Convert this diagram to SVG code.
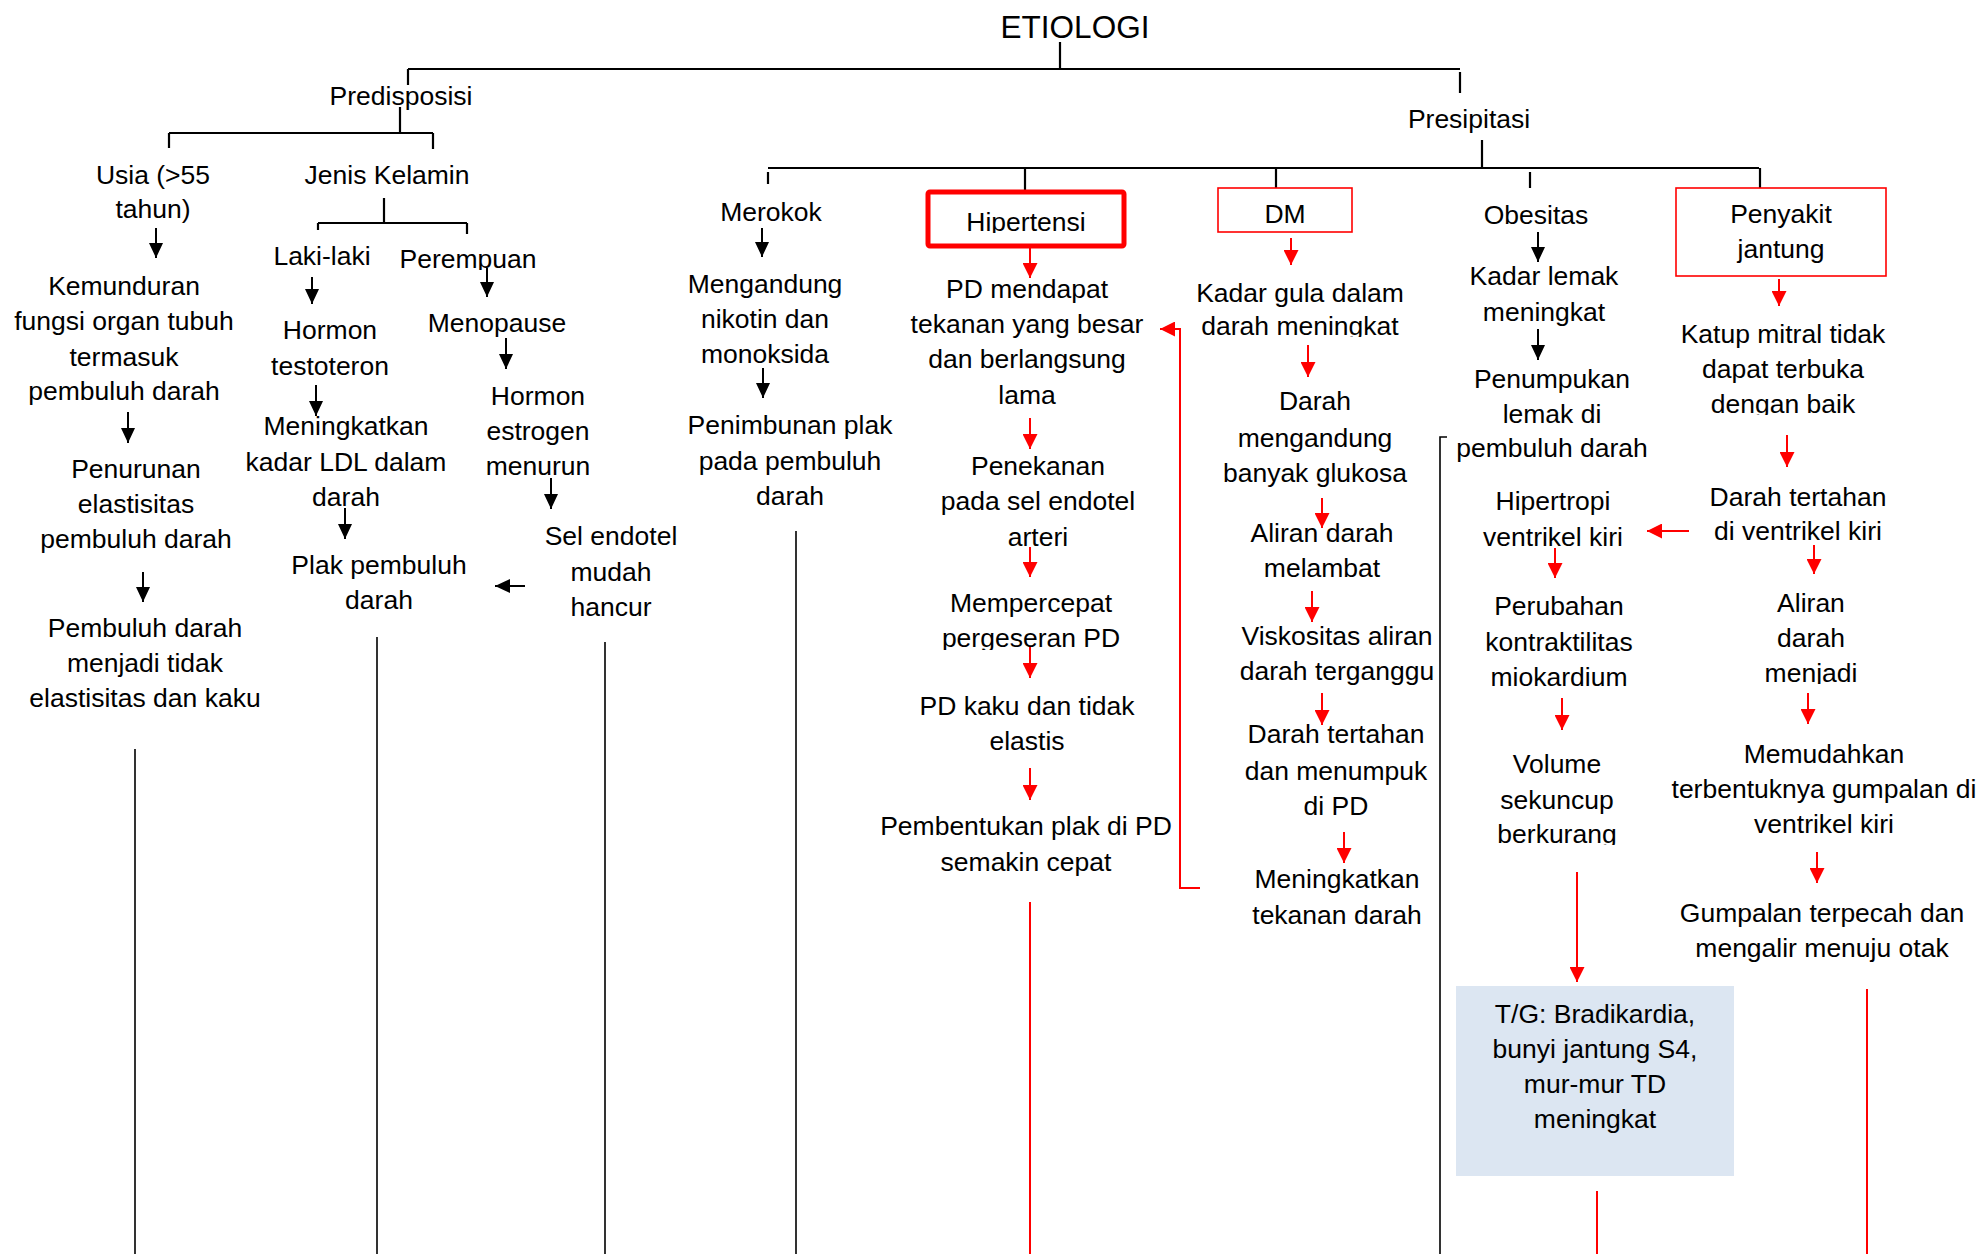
<svg xmlns="http://www.w3.org/2000/svg" width="1984" height="1254" viewBox="0 0 1984 1254">
<style>
text{font-family:"Liberation Sans",Arial,sans-serif;font-size:26.5px;fill:#000;text-anchor:middle}
.title{font-size:31.5px}
.k{stroke:#000;stroke-width:2.2;fill:none}
.kl{stroke:#000;stroke-width:1.6;fill:none}
.r{stroke:#ff0000;stroke-width:2;fill:none}
.ka{stroke:#000;stroke-width:2;fill:none;marker-end:url(#ab)}
.ra{stroke:#ff0000;stroke-width:2;fill:none;marker-end:url(#ar)}
</style>
<defs>
<marker id="ab" viewBox="0 0 15 14" refX="15" refY="7" markerWidth="15" markerHeight="14" markerUnits="userSpaceOnUse" orient="auto"><path d="M0,0 L15,7 L0,14 z" fill="#000"/></marker>
<marker id="ar" viewBox="0 0 15 15" refX="15" refY="7.5" markerWidth="15" markerHeight="15" markerUnits="userSpaceOnUse" orient="auto"><path d="M0,0 L15,7.5 L0,15 z" fill="#ff0000"/></marker>
<clipPath id="c1" clipPathUnits="userSpaceOnUse"><rect x="0" y="0" width="1984" height="270"/></clipPath>
<clipPath id="c2" clipPathUnits="userSpaceOnUse"><rect x="0" y="0" width="1984" height="337"/></clipPath>
<clipPath id="c3" clipPathUnits="userSpaceOnUse"><rect x="0" y="0" width="1984" height="415"/></clipPath>
<clipPath id="c4" clipPathUnits="userSpaceOnUse"><rect x="0" y="0" width="1984" height="845"/></clipPath>
<clipPath id="c5" clipPathUnits="userSpaceOnUse"><rect x="0" y="0" width="1984" height="684"/></clipPath>
<clipPath id="c6" clipPathUnits="userSpaceOnUse"><rect x="0" y="0" width="1984" height="650"/></clipPath>
<clipPath id="c7" clipPathUnits="userSpaceOnUse"><rect x="0" y="0" width="1984" height="233"/></clipPath>
</defs>
<rect width="1984" height="1254" fill="#fff"/>

<g id="connectors">
<path class="k" d="M1060,42 V69 M408,69 H1460 M408,69 V85 M1460,72 V93"/>
<path class="k" d="M400,107 V133 M169,133 H433 M169,133 V148 M433,133 V149"/>
<path class="k" d="M384,198 V223 M318,223 H467 M318,223 V230 M467,223 V234"/>
<path class="k" d="M1482,140 V167 M768,168 H1759 M768,172 V184 M1025,168 V192 M1276,168 V188 M1530,172 V188 M1760,168 V188"/>
<line class="ka" x1="156" y1="228" x2="156" y2="258"/>
<line class="ka" x1="128" y1="412" x2="128" y2="443"/>
<line class="ka" x1="143" y1="572" x2="143" y2="602"/>
<line class="ka" x1="312" y1="277" x2="312" y2="304"/>
<line class="ka" x1="316" y1="385" x2="316" y2="416"/>
<line class="ka" x1="345" y1="508" x2="345" y2="539"/>
<line class="ka" x1="487" y1="268" x2="487" y2="297"/>
<line class="ka" x1="506" y1="338" x2="506" y2="369"/>
<line class="ka" x1="551" y1="478" x2="551" y2="509"/>
<line class="ka" x1="525" y1="586" x2="495" y2="586"/>
<line class="ka" x1="762" y1="228" x2="762" y2="257"/>
<line class="ka" x1="763" y1="368" x2="763" y2="398"/>
<line class="ka" x1="1538" y1="232" x2="1538" y2="262"/>
<line class="ka" x1="1538" y1="329" x2="1538" y2="360"/>
<line class="ra" x1="1030" y1="247" x2="1030" y2="278"/>
<line class="ra" x1="1030" y1="418" x2="1030" y2="449"/>
<line class="ra" x1="1030" y1="547" x2="1030" y2="577"/>
<line class="ra" x1="1030" y1="647" x2="1030" y2="678"/>
<line class="ra" x1="1030" y1="768" x2="1030" y2="800"/>
<path class="ra" d="M1200,888 H1180 V329 H1160"/>
<line class="ra" x1="1291" y1="238" x2="1291" y2="265"/>
<line class="ra" x1="1308" y1="345" x2="1308" y2="377"/>
<line class="ra" x1="1322" y1="498" x2="1322" y2="528"/>
<line class="ra" x1="1312" y1="591" x2="1312" y2="622"/>
<line class="ra" x1="1322" y1="693" x2="1322" y2="725"/>
<line class="ra" x1="1344" y1="832" x2="1344" y2="863"/>
<line class="ra" x1="1555" y1="548" x2="1555" y2="578"/>
<line class="ra" x1="1562" y1="698" x2="1562" y2="730"/>
<line class="ra" x1="1577" y1="872" x2="1577" y2="982"/>
<line class="ra" x1="1689" y1="531" x2="1647" y2="531"/>
<line class="ra" x1="1779" y1="279" x2="1779" y2="306"/>
<line class="ra" x1="1787" y1="435" x2="1787" y2="467"/>
<line class="ra" x1="1814" y1="545" x2="1814" y2="574"/>
<line class="ra" x1="1808" y1="693" x2="1808" y2="724"/>
<line class="ra" x1="1817" y1="852" x2="1817" y2="883"/>
<path class="kl" d="M135,749 V1254 M377,637 V1254 M605,642 V1254 M796,531 V1254 M1447,437 H1440 V1254"/>
<path class="r" d="M1030,902 V1254 M1597,1191 V1254 M1867,989 V1254"/>
</g>

<g id="etiologi"><text class="title" x="1075" y="38">ETIOLOGI</text></g>
<g id="predisposisi"><text x="401" y="105">Predisposisi</text></g>
<g id="presipitasi"><text x="1469" y="128">Presipitasi</text></g>

<g id="usia"><text x="153" y="184">Usia (&gt;55</text><text x="153" y="218">tahun)</text></g>
<g id="kemunduran"><text x="124" y="295">Kemunduran</text><text x="124" y="330">fungsi organ tubuh</text><text x="124" y="366">termasuk</text><text x="124" y="400">pembuluh darah</text></g>
<g id="penurunan"><text x="136" y="478">Penurunan</text><text x="136" y="513">elastisitas</text><text x="136" y="548">pembuluh darah</text></g>
<g id="pembuluh-kaku"><text x="145" y="637">Pembuluh darah</text><text x="145" y="672">menjadi tidak</text><text x="145" y="707">elastisitas dan kaku</text></g>

<g id="jenis-kelamin"><text x="387" y="184">Jenis Kelamin</text></g>
<g id="laki"><text x="322" y="265">Laki-laki</text></g>
<g id="testoteron"><text x="330" y="339">Hormon</text><text x="330" y="375">testoteron</text></g>
<g id="ldl"><text x="346" y="435">Meningkatkan</text><text x="346" y="471">kadar LDL dalam</text><text x="346" y="506">darah</text></g>
<g id="plak"><text x="379" y="574">Plak pembuluh</text><text x="379" y="609">darah</text></g>
<g id="perempuan"><text x="468" y="268" clip-path="url(#c1)">Perempuan</text></g>
<g id="menopause"><text x="497" y="332">Menopause</text></g>
<g id="estrogen"><text x="538" y="405">Hormon</text><text x="538" y="440">estrogen</text><text x="538" y="475">menurun</text></g>
<g id="sel-endotel"><text x="611" y="545">Sel endotel</text><text x="611" y="581">mudah</text><text x="611" y="616">hancur</text></g>

<g id="merokok"><text x="771" y="221">Merokok</text></g>
<g id="nikotin"><text x="765" y="293">Mengandung</text><text x="765" y="328">nikotin dan</text><text x="765" y="363">monoksida</text></g>
<g id="penimbunan"><text x="790" y="434">Penimbunan plak</text><text x="790" y="470">pada pembuluh</text><text x="790" y="505">darah</text></g>

<g id="hipertensi"><rect x="928" y="192" width="196" height="54" rx="2" fill="none" stroke="#ff0000" stroke-width="5"/><text x="1026" y="231" clip-path="url(#c7)">Hipertensi</text></g>
<g id="pd-tekanan"><text x="1027" y="298">PD mendapat</text><text x="1027" y="333">tekanan yang besar</text><text x="1027" y="368">dan berlangsung</text><text x="1027" y="404">lama</text></g>
<g id="penekanan"><text x="1038" y="475">Penekanan</text><text x="1038" y="510">pada sel endotel</text><text x="1038" y="546">arteri</text></g>
<g id="mempercepat"><text x="1031" y="612">Mempercepat</text><text x="1031" y="647" clip-path="url(#c6)">pergeseran PD</text></g>
<g id="pd-kaku"><text x="1027" y="715">PD kaku dan tidak</text><text x="1027" y="750">elastis</text></g>
<g id="pembentukan"><text x="1026" y="835">Pembentukan plak di PD</text><text x="1026" y="871">semakin cepat</text></g>

<g id="dm"><rect x="1218" y="188" width="134" height="44" fill="none" stroke="#ff0000" stroke-width="1.6"/><text x="1285" y="223">DM</text></g>
<g id="gula"><text x="1300" y="302">Kadar gula dalam</text><text x="1300" y="335" clip-path="url(#c2)">darah meningkat</text></g>
<g id="glukosa"><text x="1315" y="410">Darah</text><text x="1315" y="447">mengandung</text><text x="1315" y="482">banyak glukosa</text></g>
<g id="aliran-lambat"><text x="1322" y="542">Aliran darah</text><text x="1322" y="577">melambat</text></g>
<g id="viskositas"><text x="1337" y="645">Viskositas aliran</text><text x="1337" y="680">darah terganggu</text></g>
<g id="menumpuk"><text x="1336" y="743">Darah tertahan</text><text x="1336" y="780">dan menumpuk</text><text x="1336" y="815">di PD</text></g>
<g id="tekanan-darah"><text x="1337" y="888">Meningkatkan</text><text x="1337" y="924">tekanan darah</text></g>

<g id="obesitas"><text x="1536" y="224">Obesitas</text></g>
<g id="lemak"><text x="1544" y="285">Kadar lemak</text><text x="1544" y="321">meningkat</text></g>
<g id="penumpukan"><text x="1552" y="388">Penumpukan</text><text x="1552" y="423">lemak di</text><text x="1552" y="457">pembuluh darah</text></g>
<g id="hipertropi"><text x="1553" y="510">Hipertropi</text><text x="1553" y="546">ventrikel kiri</text></g>
<g id="kontraktilitas"><text x="1559" y="615">Perubahan</text><text x="1559" y="651">kontraktilitas</text><text x="1559" y="686">miokardium</text></g>
<g id="volume"><text x="1557" y="773">Volume</text><text x="1557" y="809">sekuncup</text><text x="1557" y="843" clip-path="url(#c4)">berkurang</text></g>
<g id="tg"><rect x="1456" y="986" width="278" height="190" fill="#dce6f2"/><text x="1595" y="1023">T/G: Bradikardia,</text><text x="1595" y="1058">bunyi jantung S4,</text><text x="1595" y="1093">mur-mur TD</text><text x="1595" y="1128">meningkat</text></g>

<g id="penyakit-jantung"><rect x="1676" y="188" width="210" height="88" fill="none" stroke="#ff0000" stroke-width="1.6"/><text x="1781" y="223">Penyakit</text><text x="1781" y="258">jantung</text></g>
<g id="katup"><text x="1783" y="343">Katup mitral tidak</text><text x="1783" y="378">dapat terbuka</text><text x="1783" y="413" clip-path="url(#c3)">dengan baik</text></g>
<g id="tertahan-vk"><text x="1798" y="506">Darah tertahan</text><text x="1798" y="540">di ventrikel kiri</text></g>
<g id="aliran-menjadi"><text x="1811" y="612">Aliran</text><text x="1811" y="647">darah</text><text x="1811" y="682" clip-path="url(#c5)">menjadi</text></g>
<g id="gumpalan"><text x="1824" y="763">Memudahkan</text><text x="1824" y="798">terbentuknya gumpalan di</text><text x="1824" y="833">ventrikel kiri</text></g>
<g id="otak"><text x="1822" y="922">Gumpalan terpecah dan</text><text x="1822" y="957">mengalir menuju otak</text></g>
</svg>
